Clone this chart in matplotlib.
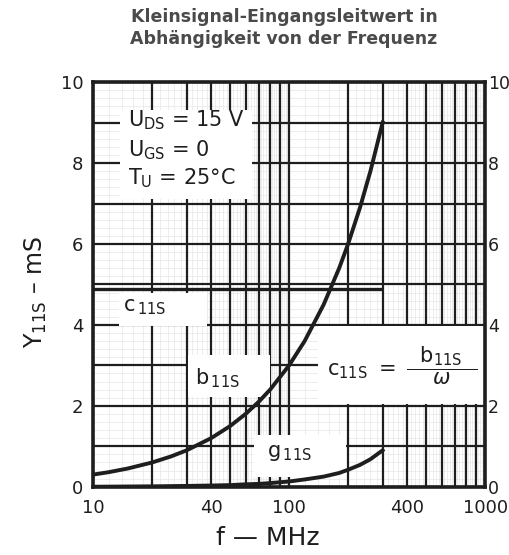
"""Small-signal input admittance vs frequency (datasheet style chart)."""
import matplotlib
matplotlib.use("Agg")
import matplotlib.pyplot as plt
from matplotlib.patches import Rectangle
import numpy as np

# data (f in MHz, admittance in mS)
f_b = [10, 12, 15, 20, 25, 30, 40, 50, 60, 70, 80, 100, 120, 150, 180, 200, 230, 260, 300]
b11s = [0.3, 0.36, 0.45, 0.6, 0.75, 0.9, 1.2, 1.5, 1.8, 2.1, 2.4, 3.0, 3.6, 4.5, 5.4, 6.0,
        6.9, 7.8, 9.0]
f_g = [10, 20, 30, 40, 50, 60, 70, 80, 100, 120, 150, 180, 200, 230, 260, 300]
g11s = [0.0, 0.01, 0.02, 0.03, 0.04, 0.06, 0.07, 0.09, 0.13, 0.18, 0.25, 0.34, 0.42, 0.54,
        0.68, 0.9]
f_c = [10, 300]
c11s = [4.88, 4.88]

x_ticks = [10, 40, 100, 400, 1000]
y_ticks = [0, 2, 4, 6, 8, 10]

INK = "#1e1e1e"
plt.rcParams["font.family"] = ["DejaVu Sans"]

fig = plt.figure(figsize=(5.09, 5.55), dpi=100)
ax = fig.add_axes([0.183, 0.123, 0.770, 0.729])
ax.set_xscale("log")
ax.set_xlim(10, 1000)
ax.set_ylim(0, 10)

# faint fine grid of the graph paper
fine_x = list(range(10, 100, 2)) + list(range(100, 1000, 20))
for xv in fine_x:
    ax.axvline(xv, color="#e6e6e6", lw=0.5, zorder=0)
for yv in np.arange(0, 10, 0.2):
    ax.axhline(yv, color="#e6e6e6", lw=0.5, zorder=0)

# heavy grid
heavy_x = list(range(10, 100, 10)) + list(range(100, 1001, 100))
for xv in heavy_x:
    ax.axvline(xv, color=INK, lw=1.6, zorder=1)
for yv in range(0, 11):
    ax.axhline(yv, color=INK, lw=1.6, zorder=1)

# white patches where the labels break the grid
blanks = [(13.7, 65, 7.1, 9.3), (13.5, 38, 3.97, 4.8), (30.5, 80, 2.22, 3.25),
          (66, 195, 0.25, 1.28), (140, 1000, 2.05, 3.97)]
for x0, x1, y0, y1 in blanks:
    ax.add_patch(Rectangle((x0, y0), x1 - x0, y1 - y0, facecolor="white",
                           edgecolor="none", zorder=2))

# curves
ax.plot(f_c, c11s, color=INK, lw=2.4, zorder=4, solid_capstyle="butt")
ax.plot(f_b, b11s, color=INK, lw=2.8, zorder=4)
ax.plot(f_g, g11s, color=INK, lw=2.8, zorder=4)

lbl = dict(fontsize=15, color=INK, va="center", ha="left", zorder=3)
ax.text(15.1, 9.06, r"$\mathsf{U_{DS}}$ = 15 V", **lbl)
ax.text(15.1, 8.32, r"$\mathsf{U_{GS}}$ = 0", **lbl)
ax.text(15.1, 7.62, r"$\mathsf{T_{U}}$ = 25°C", **lbl)
ax.text(14.2, 4.45, r"$\mathsf{c_{\,11S}}$", **lbl)
ax.text(33, 2.68, r"$\mathsf{b_{\,11S}}$", **lbl)
ax.text(77, 0.84, r"$\mathsf{g_{\,11S}}$", **lbl)
ax.text(156, 2.98, r"$\mathsf{c_{11S}}\ =\ \dfrac{\ \ \mathsf{b_{11S}}\ \ }{\omega}$",
        **lbl)

for side in ax.spines.values():
    side.set_linewidth(2.6)
    side.set_color(INK)
    side.set_zorder(5)

ax.set_xticks(x_ticks)
ax.set_xticklabels([str(v) for v in x_ticks])
ax.xaxis.set_minor_locator(matplotlib.ticker.NullLocator())
ax.set_yticks(y_ticks)
ax.tick_params(length=0, labelsize=13, colors=INK)
ax.tick_params(axis="x", pad=9)
ax.tick_params(axis="y", pad=7)

# right-hand scale, close to the frame as in the scan
ax_r = ax.twinx()
ax_r.set_ylim(ax.get_ylim())
ax_r.set_yticks(y_ticks)
ax_r.tick_params(length=0, labelsize=12.5, colors=INK, pad=2)
for side in ax_r.spines.values():
    side.set_visible(False)

fig.text(0.527, 0.030, "f — MHz", fontsize=18, color=INK, ha="center", va="center")
fig.text(0.070, 0.474, r"Y$_{\mathsf{11S}}$ – mS", fontsize=17, color=INK,
         ha="center", va="center", rotation=90)

fig.text(0.558, 0.986, "Kleinsignal-Eingangsleitwert in\nAbhängigkeit von der Frequenz",
         ha="center", va="top", fontsize=12.5, fontweight="bold", color="#4a4a4a",
         linespacing=1.3)

fig.savefig("out.png", dpi=100)
